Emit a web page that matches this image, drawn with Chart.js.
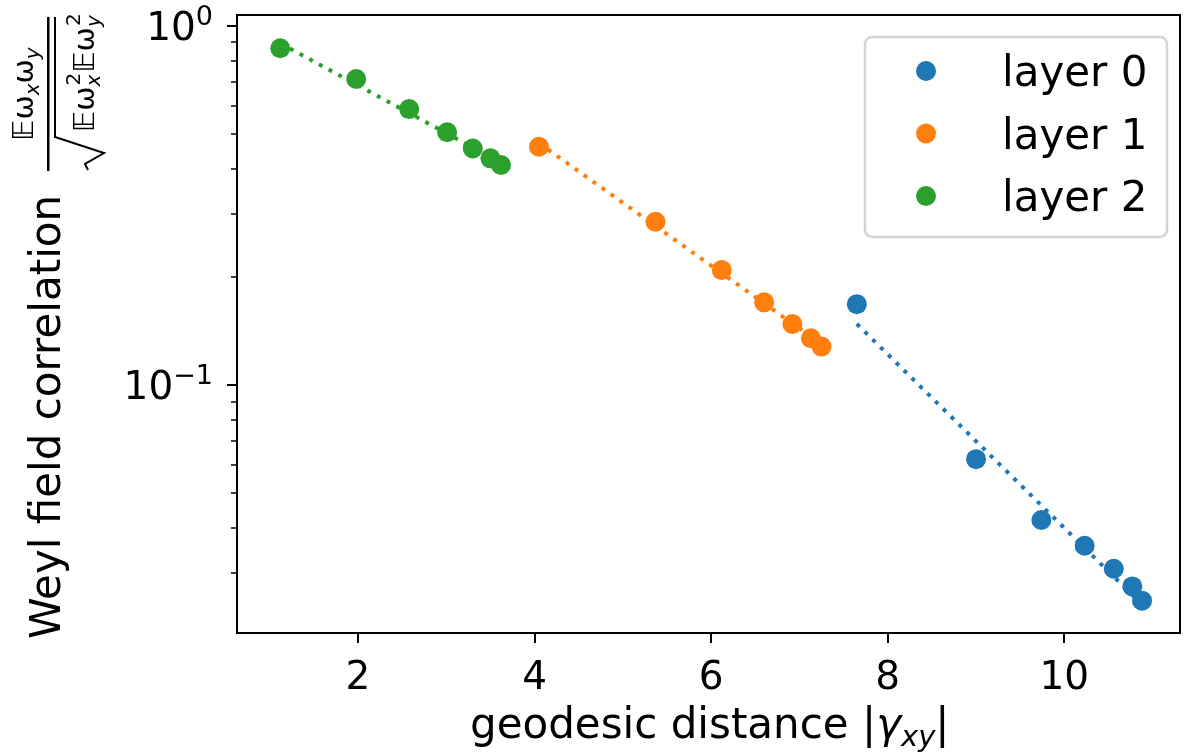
<!DOCTYPE html>
<html>
<head>
<meta charset="utf-8">
<script src="https://cdn.jsdelivr.net/npm/chart.js@4.4.0/dist/chart.umd.min.js"></script>
<style>
  html, body { margin: 0; padding: 0; background: #fff; }
  canvas { display: block; }
</style>
</head>
<body>
<canvas id="chart" width="1190" height="755"></canvas>
<script>
// =========================
// DATA
// =========================

const layerNames = ["layer 0", "layer 1", "layer 2"];
const layerColors = ["#1f77b4", "#ff7f0e", "#2ca02c"];

const layer0X = [7.65, 9.00, 9.74, 10.23, 10.56, 10.77, 10.88];
const layer0Y = [0.168, 0.0622, 0.0421, 0.0357, 0.0308, 0.0275, 0.0251];

const layer1X = [4.05, 5.37, 6.12, 6.60, 6.92, 7.13, 7.25];
const layer1Y = [0.461, 0.285, 0.209, 0.170, 0.148, 0.135, 0.128];

const layer2X = [1.12, 1.98, 2.58, 3.01, 3.30, 3.50, 3.62];
const layer2Y = [0.867, 0.712, 0.587, 0.506, 0.456, 0.428, 0.410];

// dotted fit lines, end points
const fit0X = [7.65, 10.88];
const fit0Y = [0.148, 0.0245];
const fit1X = [4.05, 7.25];
const fit1Y = [0.472, 0.130];
const fit2X = [1.12, 3.62];
const fit2Y = [0.895, 0.416];

const xTicks = [2, 4, 6, 8, 10];
const yTicks = [0.03, 0.04, 0.05, 0.06, 0.07, 0.08, 0.09,
                0.1, 0.2, 0.3, 0.4, 0.5, 0.6, 0.7, 0.8, 0.9, 1];
const yLabelValues = [1, 0.1];
const yLabelExps = ["0", "\u22121"];

const xTitle = "geodesic distance |";
const yTitle = "Weyl field correlation";


// =========================
// HELPERS
// =========================

const FONT = '"DejaVu Sans"';

function toPoints(xs, ys) {
  return xs.map((x, i) => ({ x: x, y: ys[i] }));
}

function scatterSet(i, xs, ys) {
  return {
    label: layerNames[i],
    data: toPoints(xs, ys),
    showLine: false,
    pointRadius: 10,
    pointHoverRadius: 10,
    pointBackgroundColor: layerColors[i],
    pointBorderWidth: 0,
    order: 1
  };
}

function fitSet(i, xs, ys) {
  return {
    label: "fit " + i,
    data: toPoints(xs, ys),
    showLine: true,
    isFit: true,
    borderColor: layerColors[i],
    borderWidth: 4,
    borderDash: [4, 7],
    borderCapStyle: "butt",
    pointRadius: 0,
    pointHoverRadius: 0,
    order: 0
  };
}

// draw a run of text pieces left to right
function drawPieces(ctx, pieces, x, y) {
  pieces.forEach(p => {
    ctx.font = p.font;
    ctx.fillText(p.t, x, y + (p.dy || 0));
    x += ctx.measureText(p.t).width + (p.gap || 0);
  });
  return x;
}

function piecesWidth(ctx, pieces) {
  let w = 0;
  pieces.forEach(p => {
    ctx.font = p.font;
    w += ctx.measureText(p.t).width + (p.gap || 0);
  });
  return w;
}


// =========================
// DECORATION PLUGIN
// =========================

const decorations = {
  id: "decorations",
  afterDatasetsDraw(chart) {
    const ctx = chart.ctx;
    const area = chart.chartArea;
    const xs = chart.scales.x;
    const ys = chart.scales.y;

    ctx.save();
    ctx.strokeStyle = "#000";
    ctx.fillStyle = "#000";

    // frame
    ctx.lineWidth = 2;
    ctx.strokeRect(area.left, area.top, area.right - area.left, area.bottom - area.top);

    // x tick marks
    xs.ticks.forEach(t => {
      const px = Math.round(xs.getPixelForValue(t.value));
      ctx.beginPath();
      ctx.moveTo(px, area.bottom);
      ctx.lineTo(px, area.bottom + 10);
      ctx.stroke();
    });

    // y tick marks, long on decades
    ys.ticks.forEach(t => {
      const py = Math.round(ys.getPixelForValue(t.value));
      if (py < area.top || py > area.bottom) return;
      const major = yLabelValues.includes(t.value);
      ctx.lineWidth = major ? 2 : 1.5;
      ctx.beginPath();
      ctx.moveTo(area.left, py);
      ctx.lineTo(area.left - (major ? 10 : 6), py);
      ctx.stroke();
    });

    // y tick labels 10^n
    ctx.textBaseline = "alphabetic";
    ctx.textAlign = "left";
    yLabelValues.forEach((v, i) => {
      const py = ys.getPixelForValue(v);
      const right = area.left - 24;
      ctx.font = "27px " + FONT;
      const we = ctx.measureText(yLabelExps[i]).width;
      ctx.font = "39px " + FONT;
      const wb = ctx.measureText("10").width;
      ctx.fillText("10", right - we - wb, py + 14);
      ctx.font = "27px " + FONT;
      ctx.fillText(yLabelExps[i], right - we, py - 1);
    });

    // legend
    const bx = 865, by = 37, bw = 302, bh = 200;
    ctx.beginPath();
    ctx.roundRect(bx, by, bw, bh, 7);
    ctx.fillStyle = "rgba(255,255,255,0.8)";
    ctx.fill();
    ctx.lineWidth = 2.5;
    ctx.strokeStyle = "#d4d4d4";
    ctx.stroke();

    const entries = chart.data.datasets.filter(d => !d.isFit);
    entries.forEach((d, i) => {
      const cy = 71 + i * 62.5;
      ctx.beginPath();
      ctx.arc(926, cy, 10, 0, Math.PI * 2);
      ctx.fillStyle = d.pointBackgroundColor;
      ctx.fill();
      ctx.fillStyle = "#000";
      ctx.font = "42px " + FONT;
      ctx.textBaseline = "alphabetic";
      ctx.fillText(d.label, 1002, cy + 15);
    });

    ctx.restore();
  },

  afterDraw(chart) {
    const ctx = chart.ctx;
    ctx.save();
    ctx.fillStyle = "#000";
    ctx.strokeStyle = "#000";
    ctx.textBaseline = "alphabetic";
    ctx.textAlign = "left";

    // x axis title: geodesic distance |γ_xy|
    const big = "42px " + FONT;
    const it = "italic 42px " + FONT;
    const itSmall = "italic 29px " + FONT;
    drawPieces(ctx, [
      { t: xTitle, font: big },
      { t: "\u03b3", font: it },
      { t: "xy", font: itSmall, dy: 8 },
      { t: "|", font: big }
    ], 470, 738);

    // y axis title, rotated
    ctx.translate(60, 639);
    ctx.rotate(-Math.PI / 2);
    ctx.font = big;
    ctx.fillText(yTitle, 0, 0);

    const m = "29px " + FONT;
    const s = "italic 20px " + FONT;
    const sup = "20px " + FONT;

    // fraction bar
    ctx.fillRect(468, -13, 154, 2.5);

    // numerator  E w_x w_y
    const num = [
      { t: "\ud835\udd3c\u03c9", font: m },
      { t: "x", font: s, dy: 6 },
      { t: "\u03c9", font: m },
      { t: "y", font: s, dy: 6 }
    ];
    const nw = piecesWidth(ctx, num);
    drawPieces(ctx, num, 545 - nw / 2, -27);

    // denominator  sqrt(E w_x^2 E w_y^2)
    ctx.lineWidth = 2;
    ctx.beginPath();
    ctx.moveTo(469, 28);
    ctx.lineTo(475, 25);
    ctx.lineTo(486, 44);
    ctx.lineTo(502, -5);
    ctx.lineTo(622, -5);
    ctx.stroke();

    let x = 507;
    ["x", "y"].forEach(sub => {
      ctx.font = m;
      ctx.fillText("\ud835\udd3c\u03c9", x, 34);
      x += ctx.measureText("\ud835\udd3c\u03c9").width;
      ctx.font = sup;
      ctx.fillText("2", x + 1, 20);
      ctx.font = s;
      ctx.fillText(sub, x, 40);
      x += 14;
    });

    ctx.restore();
  }
};


// =========================
// CHART
// =========================

new Chart(document.getElementById("chart").getContext("2d"), {
  type: "scatter",
  data: {
    datasets: [
      fitSet(0, fit0X, fit0Y),
      fitSet(1, fit1X, fit1Y),
      fitSet(2, fit2X, fit2Y),
      scatterSet(0, layer0X, layer0Y),
      scatterSet(1, layer1X, layer1Y),
      scatterSet(2, layer2X, layer2Y)
    ]
  },
  options: {
    responsive: false,
    animation: false,
    devicePixelRatio: 1,
    layout: { padding: { top: 15, right: 7, left: 0, bottom: 0 } },
    plugins: {
      legend: { display: false },
      tooltip: { enabled: false }
    },
    scales: {
      x: {
        type: "linear",
        min: 0.63,
        max: 11.31,
        afterBuildTicks: scale => {
          scale.ticks = xTicks.map(v => ({ value: v }));
        },
        afterFit: scale => { scale.height = 122; },
        grid: { display: false },
        border: { display: false },
        ticks: {
          color: "#000",
          font: { family: "DejaVu Sans", size: 39 },
          padding: 14,
          maxRotation: 0
        }
      },
      y: {
        type: "logarithmic",
        min: 0.0204,
        max: 1.073,
        afterBuildTicks: scale => {
          scale.ticks = yTicks.map(v => ({ value: v }));
        },
        afterFit: scale => { scale.width = 237; },
        grid: { display: false },
        border: { display: false },
        ticks: { display: false }
      }
    }
  },
  plugins: [decorations]
});
</script>
</body>
</html>
